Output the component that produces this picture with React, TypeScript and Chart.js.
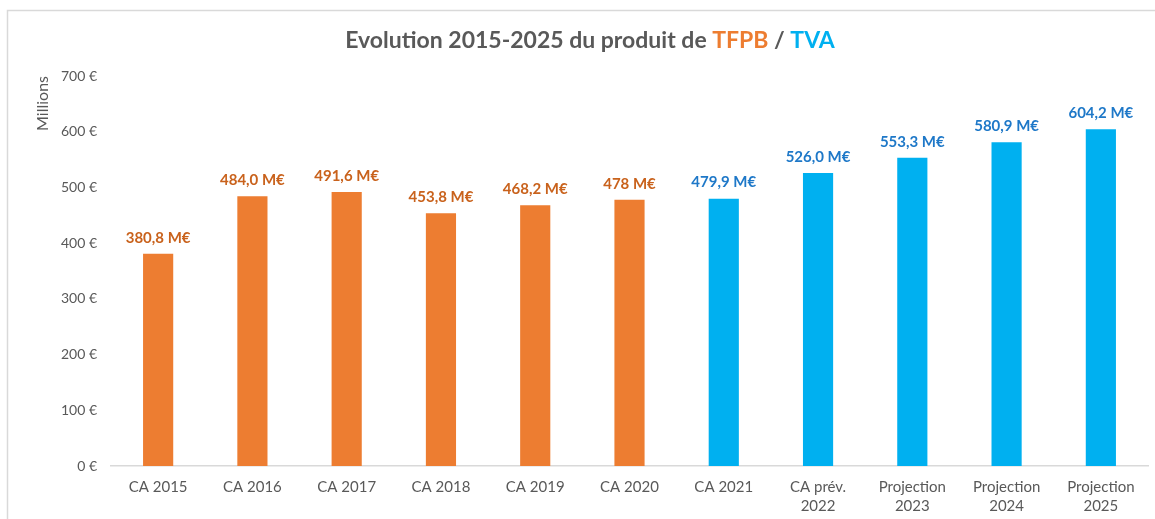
import React, { useEffect, useRef } from "react";
import { Chart, registerables } from "chart.js";

Chart.register(...registerables);

const categories: (string | string[])[] = [
  "CA 2015",
  "CA 2016",
  "CA 2017",
  "CA 2018",
  "CA 2019",
  "CA 2020",
  "CA 2021",
  ["CA prév.", "2022"],
  ["Projection", "2023"],
  ["Projection", "2024"],
  ["Projection", "2025"],
];
const values = [380.8, 484.0, 491.6, 453.8, 468.2, 478, 479.9, 526.0, 553.3, 580.9, 604.2];
const valueLabels = [
  "380,8 M€",
  "484,0 M€",
  "491,6 M€",
  "453,8 M€",
  "468,2 M€",
  "478 M€",
  "479,9 M€",
  "526,0 M€",
  "553,3 M€",
  "580,9 M€",
  "604,2 M€",
];
const series = ["TFPB", "TFPB", "TFPB", "TFPB", "TFPB", "TFPB", "TVA", "TVA", "TVA", "TVA", "TVA"];
const yTicks = [0, 100, 200, 300, 400, 500, 600, 700];
const titleParts = [
  { text: "Evolution 2015-2025 du produit de ", key: "text" },
  { text: "TFPB", key: "TFPB" },
  { text: " / ", key: "text" },
  { text: "TVA", key: "TVA" },
];

const BAR_COLORS: Record<string, string> = { TFPB: "#ED7D31", TVA: "#00B0F0" };
const LABEL_COLORS: Record<string, string> = { TFPB: "#C9621C", TVA: "#1E78C8" };
const TEXT_GRAY = "#595959";
const FONT = "Lato, 'Open Sans', sans-serif";

const decorPlugin = {
  id: "decor",
  beforeDraw(chart: any) {
    const ctx = chart.ctx;
    ctx.save();
    ctx.strokeStyle = "#D9D9D9";
    ctx.lineWidth = 1.5;
    ctx.strokeRect(7.5, 10.5, 1400, 800);
    ctx.restore();
  },
  afterDraw(chart: any) {
    const ctx = chart.ctx;
    ctx.save();
    // title
    ctx.font = `bold 23px ${FONT}`;
    ctx.textBaseline = "middle";
    ctx.textAlign = "left";
    const total = titleParts.reduce((s, p) => s + ctx.measureText(p.text).width, 0);
    let x = 590 - total / 2;
    for (const p of titleParts) {
      ctx.fillStyle = p.key === "text" ? TEXT_GRAY : BAR_COLORS[p.key];
      ctx.fillText(p.text, x, 41);
      x += ctx.measureText(p.text).width;
    }
    // value labels
    const meta = chart.getDatasetMeta(0);
    ctx.font = `bold 15px ${FONT}`;
    ctx.textAlign = "center";
    meta.data.forEach((bar: any, i: number) => {
      ctx.fillStyle = LABEL_COLORS[series[i]];
      ctx.fillText(valueLabels[i], bar.x, bar.y - 16);
    });
    ctx.restore();
  },
};

export default function App() {
  const ref = useRef<HTMLCanvasElement>(null);
  useEffect(() => {
    if (!ref.current) return;
    const chart = new Chart(ref.current, {
      type: "bar",
      data: {
        labels: categories,
        datasets: [
          {
            data: values,
            backgroundColor: series.map((s) => BAR_COLORS[s]),
            barPercentage: 0.32,
            categoryPercentage: 1,
          },
        ],
      },
      options: {
        animation: false,
        responsive: false,
        layout: { padding: { top: 76, right: 7, left: 0, bottom: 0 } },
        plugins: { legend: { display: false }, tooltip: { enabled: false }, title: { display: false } },
        scales: {
          x: {
            grid: { display: false, drawTicks: false },
            border: { display: true, color: "#D9D9D9", width: 1.5 },
            ticks: {
              color: TEXT_GRAY,
              font: { family: FONT, size: 15, lineHeight: 1.3 },
              padding: 11,
              maxRotation: 0,
              autoSkip: false,
            },
            afterFit(scale: any) {
              scale.height = 53;
            },
          },
          y: {
            min: 0,
            max: 700,
            afterBuildTicks(scale: any) {
              scale.ticks = yTicks.map((v) => ({ value: v }));
            },
            grid: { display: false, drawTicks: false },
            border: { display: false },
            ticks: {
              color: TEXT_GRAY,
              font: { family: FONT, size: 14 },
              padding: 14,
              callback: (v: any) => `${v} €`,
            },
            title: {
              display: true,
              text: "Millions",
              align: "end",
              color: TEXT_GRAY,
              font: { family: FONT, size: 16 },
              padding: { top: 33, bottom: 0 },
            },
            afterFit(scale: any) {
              scale.width = 111;
            },
          },
        },
      },
      plugins: [decorPlugin],
    });
    return () => chart.destroy();
  }, []);
  return (
    <div style={{ position: "fixed", left: 0, top: 0, width: 1155, height: 519, background: "#fff" }}>
      <canvas ref={ref} width={1155} height={519} style={{ display: "block" }} />
    </div>
  );
}
